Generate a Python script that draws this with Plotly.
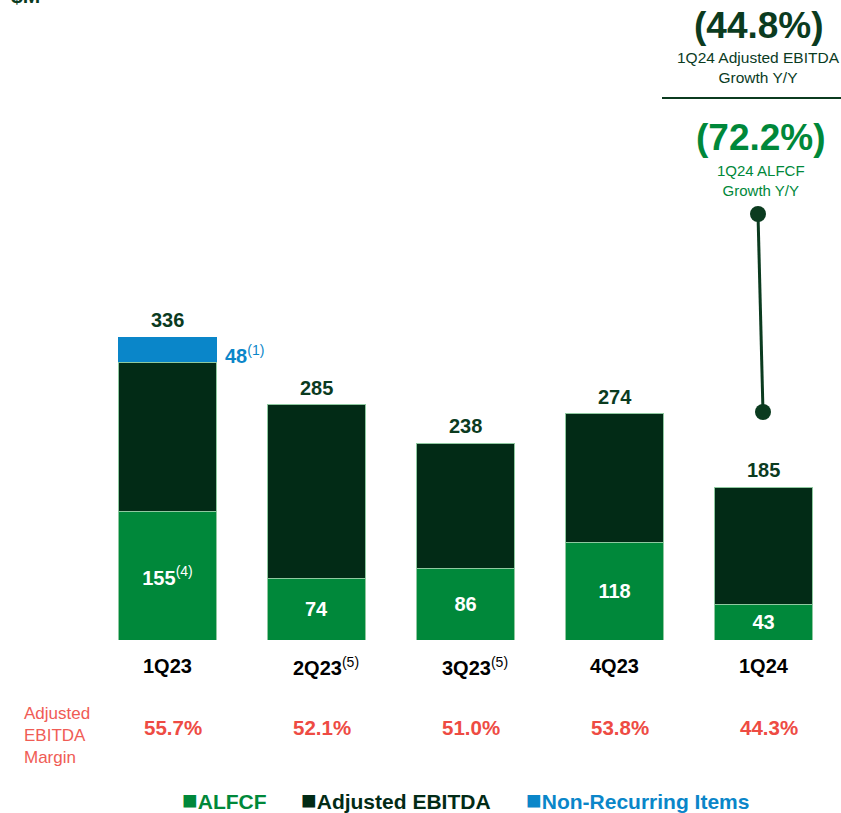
import plotly.graph_objects as go

# ---------------- data ----------------
quarters = ["1Q23", "2Q23", "3Q23", "4Q23", "1Q24"]
quarter_notes = ["", "(5)", "(5)", "", ""]
adj_ebitda = [336, 285, 238, 274, 185]
alfcf = [155, 74, 86, 118, 43]
alfcf_notes = ["(4)", "", "", "", ""]
nonrec_value = [48, 0, 0, 0, 0]          # labelled value
nonrec_note = ["(1)", "", "", "", ""]
nonrec_drawn = [31, 0, 0, 0, 0]          # segment height as drawn in the picture
ebitda_margin = ["55.7%", "52.1%", "51.0%", "53.8%", "44.3%"]
ebitda_growth = "(44.8%)"
alfcf_growth = "(72.2%)"
legend_names = ["ALFCF", "Adjusted EBITDA", "Non-Recurring Items"]

# ---------------- style ----------------
C_GREEN = "#00883A"
C_DARK = "#022B16"
C_BLUE = "#0A86C9"
C_EDGE = "#8FC9A0"
C_RED = "#EE4B43"
C_RED_L = "#F05C55"
C_TXT_DARK = "#0B3B1F"
FONT = "Liberation Sans, Arial, sans-serif"

W, H = 841, 813
L, R, T, B = 93, 3, 0, 173
PW, PH = W - L - R, H - T - B
SCALE = 0.826  # px per $M
YMAX = PH / SCALE


def xp(px):
    return (px - L) / PW


def yp(py):
    return (PH + T - py) / PH


def sup(n):
    return f"<sup><span style='font-weight:normal'>{n}</span></sup>" if n else ""


remainder = [a - f for a, f in zip(adj_ebitda, alfcf)]

fig = go.Figure()
fig.add_trace(go.Bar(
    x=quarters, y=alfcf, name=legend_names[0], width=0.664,
    marker=dict(color=C_GREEN, line=dict(color=C_EDGE, width=1)),
    text=[f"{v}{sup(n)}" for v, n in zip(alfcf, alfcf_notes)],
    textposition="inside", insidetextanchor="middle", textangle=0,
    constraintext="none",
    textfont=dict(family=FONT, size=20, color="white", weight="bold"),
    hoverinfo="skip", showlegend=False,
))
fig.add_trace(go.Bar(
    x=quarters, y=remainder, name=legend_names[1], width=0.664,
    marker=dict(color=C_DARK, line=dict(color=C_EDGE, width=1)),
    hoverinfo="skip", showlegend=False,
))
fig.add_trace(go.Bar(
    x=quarters, y=nonrec_drawn, name=legend_names[2], width=0.664,
    marker=dict(color=C_BLUE, line=dict(width=0)),
    hoverinfo="skip", showlegend=False,
))

ann = []
# totals above bars
for q, a, d in zip(quarters, adj_ebitda, nonrec_drawn):
    ann.append(dict(x=q, y=a + d, xref="x", yref="y", text=str(a), showarrow=False,
                    xanchor="center", yanchor="bottom", yshift=4,
                    font=dict(family=FONT, size=20, color=C_TXT_DARK, weight="bold")))
# non-recurring label
for q, a, v, d, n in zip(quarters, adj_ebitda, nonrec_value, nonrec_drawn, nonrec_note):
    if v:
        ann.append(dict(x=q, y=a + d / 2, xref="x", yref="y",
                        text=f"{v}{sup(n)}", showarrow=False,
                        xanchor="left", yanchor="middle", xshift=55, yshift=-5,
                        font=dict(family=FONT, size=20, color=C_BLUE, weight="bold")))
# category labels
for q, n in zip(quarters, quarter_notes):
    ann.append(dict(x=q, y=yp(666), xref="x", yref="paper",
                    text=f"{q}{sup(n)}", showarrow=False,
                    xanchor="center", yanchor="middle", xshift=(9 if n else 0),
                    font=dict(family=FONT, size=20, color="#000000", weight="bold")))
# margin row
for q, m in zip(quarters, ebitda_margin):
    ann.append(dict(x=q, y=yp(727), xref="x", yref="paper", text=m, showarrow=False,
                    xanchor="center", yanchor="middle", xshift=5,
                    font=dict(family=FONT, size=20.5, color=C_RED, weight="bold")))
ann.append(dict(x=xp(22), y=yp(735), xref="paper", yref="paper",
                text="Adjusted<br>EBITDA<br>Margin", showarrow=False, align="left",
                xanchor="left", yanchor="middle",
                font=dict(family=FONT, size=17, color=C_RED_L)))
# $M
ann.append(dict(x=xp(9), y=yp(-4), xref="paper", yref="paper", text="$M", showarrow=False,
                xanchor="left", yanchor="middle",
                font=dict(family=FONT, size=21, color=C_TXT_DARK, weight="bold")))
# top right callouts
ann += [
    dict(x=xp(759), y=yp(25), xref="paper", yref="paper", text=ebitda_growth, showarrow=False,
         xanchor="center", yanchor="middle",
         font=dict(family=FONT, size=37, color=C_TXT_DARK, weight="bold")),
    dict(x=xp(758), y=yp(68), xref="paper", yref="paper",
         text="1Q24 Adjusted EBITDA<br>Growth Y/Y", showarrow=False,
         xanchor="center", yanchor="middle",
         font=dict(family=FONT, size=15.5, color=C_TXT_DARK)),
    dict(x=xp(761), y=yp(137), xref="paper", yref="paper", text=alfcf_growth, showarrow=False,
         xanchor="center", yanchor="middle",
         font=dict(family=FONT, size=37, color=C_GREEN, weight="bold")),
    dict(x=xp(761), y=yp(180), xref="paper", yref="paper",
         text="1Q24 ALFCF<br>Growth Y/Y", showarrow=False,
         xanchor="center", yanchor="middle",
         font=dict(family=FONT, size=15, color=C_GREEN)),
]
# legend (custom)
for xpix, name, col in zip([180, 299, 524], legend_names, [C_GREEN, C_DARK, C_BLUE]):
    ann.append(dict(x=xp(xpix), y=yp(800), xref="paper", yref="paper",
                    text=f"<span style='font-size:26px'>■</span>{name}", showarrow=False,
                    xanchor="left", yanchor="middle",
                    font=dict(family=FONT, size=21, color=col, weight="bold")))

shapes = [
    dict(type="line", xref="paper", yref="paper", x0=xp(662), x1=xp(841), y0=yp(98), y1=yp(98),
         line=dict(color=C_TXT_DARK, width=2)),
    dict(type="line", xref="paper", yref="paper", x0=xp(758), x1=xp(763), y0=yp(214), y1=yp(412),
         line=dict(color=C_TXT_DARK, width=3)),
    dict(type="circle", xref="paper", yref="paper", x0=xp(750), x1=xp(766), y0=yp(206), y1=yp(222),
         fillcolor=C_TXT_DARK, line=dict(width=0)),
    dict(type="circle", xref="paper", yref="paper", x0=xp(755), x1=xp(771), y0=yp(404), y1=yp(420),
         fillcolor=C_TXT_DARK, line=dict(width=0)),
]

fig.update_layout(
    width=W, height=H, barmode="stack",
    margin=dict(l=L, r=R, t=T, b=B, pad=0),
    paper_bgcolor="white", plot_bgcolor="white",
    xaxis=dict(range=[-0.5, 4.5], showticklabels=False, showgrid=False, zeroline=False,
               showline=False, ticks="", fixedrange=True),
    yaxis=dict(range=[0, YMAX], visible=False, fixedrange=True),
    annotations=ann, shapes=shapes, showlegend=False,
    font=dict(family=FONT),
)

fig.write_html("out.html", config={"displayModeBar": False},
               post_script="document.body.style.margin='0';document.body.style.padding='0';")
